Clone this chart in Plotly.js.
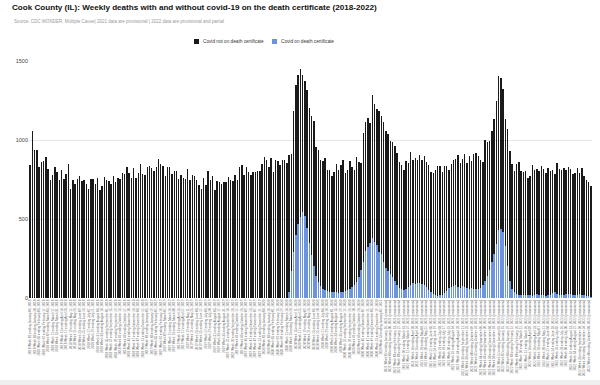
<!DOCTYPE html>
<html><head><meta charset="utf-8">
<script src="https://cdn.plot.ly/plotly-3.0.1.min.js"></script>
<style>html,body{margin:0;padding:0;background:#fff}#chart{width:600px;height:385px}</style>
</head><body><div id="chart"></div>
<script>
// Total weekly deaths (height of each full bar), 2018 week 1 .. 2022 week 41
const totalDeaths = [
840,1057,935,935,830,862,869,890,815,750,
778,826,798,747,813,753,788,851,688,750,
720,753,775,739,747,720,688,753,753,724,
757,682,708,766,747,739,724,775,733,757,
755,792,782,826,792,758,820,757,792,851,
783,777,826,834,823,802,826,878,851,836,
771,826,826,788,802,804,752,777,760,752,
817,746,781,771,745,718,687,762,714,804,
746,771,684,739,735,724,733,735,765,750,
741,781,746,826,842,777,832,798,781,796,
798,804,802,845,893,876,830,887,798,872,
870,840,876,876,857,908,914,1184,1350,1413,
1447,1409,1373,1314,1203,1152,1118,954,935,876,
866,887,807,813,773,800,847,809,840,872,
794,809,866,830,809,893,861,855,1047,1114,
1141,1110,1283,1230,1194,1181,1150,1114,1055,1040,
995,990,965,920,860,843,811,864,856,921,
875,883,872,903,874,900,858,843,800,793,
812,835,838,797,835,836,807,848,872,882,
908,855,877,913,853,896,866,912,918,900,
875,862,998,990,995,1060,1130,1250,1405,1395,
1325,1132,1068,930,846,804,846,861,804,798,
804,762,772,839,810,814,804,835,818,789,
825,804,810,783,856,814,810,825,810,831,
818,783,793,825,793,825,772,747,735,709
];
// Weekly deaths with covid-19 on the death certificate
const covidDeaths = [
0,0,0,0,0,0,0,0,0,0, 0,0,0,0,0,0,0,0,0,0,
0,0,0,0,0,0,0,0,0,0, 0,0,0,0,0,0,0,0,0,0,
0,0,0,0,0,0,0,0,0,0, 0,0,0,0,0,0,0,0,0,0,
0,0,0,0,0,0,0,0,0,0, 0,0,0,0,0,0,0,0,0,0,
0,0,0,0,0,0,0,0,0,0, 0,0,0,0,0,0,0,0,0,0,
0,0,0,0,0,0,0,0,0,0, 0,0,0,0,0,40,170,290,400,470,
515,545,520,440,350,270,200,140,100,75,
60,50,45,40,38,35,35,33,35,38,
42,50,58,70,85,100,130,180,230,300,
320,345,381,356,335,290,278,230,190,170,
150,135,105,85,65,55,52,58,70,82,
93,88,95,97,90,80,70,50,35,25,
18,15,16,20,30,45,62,72,78,80,
72,66,75,68,62,60,62,58,55,60,
65,80,105,140,178,230,280,340,431,436,
419,330,200,110,60,40,25,22,20,18,
22,18,16,15,20,25,22,18,16,15,
18,22,30,35,28,22,18,20,25,28,
24,20,18,22,25,22,18,15,10,5
];
const seriesNames = ['Covid not on death certificate','Covid on death certificate'];
const seriesColors = ['#1a1a1a','#6b93e0'];
const yTickVals = [0,500,1000,1500];
const yearWeekCounts = [[2018,52],[2019,52],[2020,53],[2021,52],[2022,41]];
const monthNames = ['January','February','March','April','May','June','July','August','September','October','November','December'];

// week category labels (MMWR weeks, ending Saturdays)
const weekLabels = [];
(function(){
  const start = Date.UTC(2018,0,6);
  let n = 0;
  yearWeekCounts.forEach(([yr,count])=>{
    for(let w=1; w<=count; w++){
      const d = new Date(start + n*7*86400000);
      const lbl = yr + ' Week ' + String(w).padStart(2,'0') + ' ending ' + monthNames[d.getUTCMonth()] + ' ' +
        String(d.getUTCDate()).padStart(2,'0') + ', ' + d.getUTCFullYear() + (yr >= 2021 ? ' (provisional)' : '');
      weekLabels.push(lbl);
      n++;
    }
  });
})();
const nonCovidDeaths = totalDeaths.map((t,i)=>t - covidDeaths[i]);
const xTickVals = weekLabels.filter((_,i)=>i % 2 === 0);

const FONT = 'Liberation Sans, Arial, Helvetica, sans-serif';
const traces = [
  {type:'bar', name:seriesNames[1], x:weekLabels, y:covidDeaths, marker:{color:seriesColors[1]}, showlegend:false},
  {type:'bar', name:seriesNames[0], x:weekLabels, y:nonCovidDeaths, marker:{color:seriesColors[0]}, showlegend:false}
];

// plot-area pixel helpers for legend placement
const L = 29, W = 563, T = 61, H = 237;
const px = v => (v - L) / W;
const py = v => (T + H - v) / H;

const layout = {
  width:600, height:385,
  margin:{l:L, r:600-L-W, t:T, b:385-T-H, pad:0},
  paper_bgcolor:'#ffffff', plot_bgcolor:'#ffffff',
  barmode:'stack', bargap:0.36,
  font:{family:FONT, color:'#333'},
  title:{text:'<b>Cook County (IL): Weekly deaths with and without covid-19 on the death certificate (2018-2022)</b>',
    font:{family:FONT, size:8.1, color:'#111'}, xref:'container', x:12/600, xanchor:'left', yref:'container', y:1-4/385, yanchor:'top'},
  xaxis:{type:'category', tickangle:-90, tickvals:xTickVals, ticktext:xTickVals, tickfont:{size:3.1, color:'#666', family:FONT},
    showgrid:false, zeroline:false, showline:false, ticks:'', automargin:false, fixedrange:true},
  yaxis:{range:[0,1500], tickvals:yTickVals, tickfont:{size:5.5, color:'#444', family:FONT}, gridcolor:'#e6e6e6', gridwidth:1,
    zeroline:false, showline:false, ticks:'', automargin:false, fixedrange:true},
  shapes:[
    {type:'rect', xref:'paper', yref:'paper', x0:px(194), x1:px(199), y0:py(44), y1:py(39), fillcolor:seriesColors[0], line:{width:0}},
    {type:'rect', xref:'paper', yref:'paper', x0:px(272), x1:px(277), y0:py(44), y1:py(39), fillcolor:seriesColors[1], line:{width:0}},
    {type:'rect', xref:'paper', yref:'paper', x0:px(0), x1:px(600), y0:py(385), y1:py(380), fillcolor:'#eeeeee', line:{width:0}, layer:'below'}
  ],
  annotations:[
    {text:'Source: CDC WONDER, Multiple Cause| 2021 data are provisional | 2022 data are provisional and partial', xref:'paper', yref:'paper',
      x:px(12), y:py(21.5), xanchor:'left', yanchor:'middle', showarrow:false, font:{family:FONT, size:4.5, color:'#999999'}},
    {text:seriesNames[0], xref:'paper', yref:'paper', x:px(201), y:py(41.5), xanchor:'left', yanchor:'middle', showarrow:false, font:{family:FONT, size:4.7, color:'#333'}},
    {text:seriesNames[1], xref:'paper', yref:'paper', x:px(279), y:py(41.5), xanchor:'left', yanchor:'middle', showarrow:false, font:{family:FONT, size:4.7, color:'#333'}}
  ]
};
Plotly.newPlot('chart', traces, layout, {displayModeBar:false, staticPlot:true});
</script></body></html>
